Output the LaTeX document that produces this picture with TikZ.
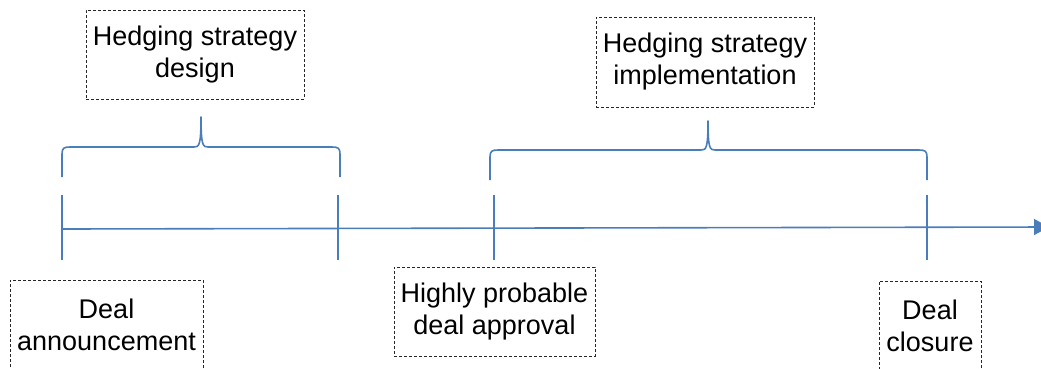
\documentclass[tikz,border=0pt]{standalone}
\usepackage{fontspec}
\setmainfont{Liberation Sans}
\usetikzlibrary{arrows.meta}
\definecolor{axisblue}{RGB}{74,126,187}
\tikzset{
  labelbox/.style={draw=black!85, line width=1pt, dash pattern=on 3pt off 2pt,
    align=center, inner sep=0pt, font=\fontsize{27}{32}\selectfont},
  blueline/.style={draw=axisblue, line width=1.6pt},
}
\begin{document}
\begin{tikzpicture}[x=1pt,y=-1pt]
\useasboundingbox (0,0) rectangle (1041,368);
% boxes
\node[labelbox, minimum width=218pt, minimum height=89pt] (design) at (195,54.5) {Hedging strategy\\design};
\node[labelbox, minimum width=218pt, minimum height=90pt] (impl) at (705,62) {Hedging strategy\\implementation};
\node[labelbox, minimum width=193pt, minimum height=90pt] (announce) at (106.5,325) {Deal\\announcement};
\node[labelbox, minimum width=201pt, minimum height=89pt] (approval) at (494.5,311.5) {Highly probable\\deal approval};
\node[labelbox, minimum width=102pt, minimum height=90pt] (closure) at (930,326) {Deal\\closure};
% axis
\coordinate (axstart) at (62,229);
\coordinate (axend) at (1049,227);
\draw[blueline, -{Triangle[width=16pt,length=15pt]}] (axstart) -- (axend);
% ticks
\foreach \n/\x in {t1/62,t2/338,t3/494,t4/927}{
  \coordinate (\n top) at (\x,195);
  \coordinate (\n bot) at (\x,260);
  \draw[blueline] (\n top) -- (\n bot);
}
% braces
\coordinate (b1tip) at (201,117);
\draw[blueline, line join=round] (62,177) -- (62,154) .. controls (62,148) and (64,147) .. (70,147)
  -- (194,147) .. controls (199,147) and (201,146) .. (b1tip)
  .. controls (201,146) and (203,147) .. (208,147)
  -- (332,147) .. controls (338,147) and (340,148) .. (340,154) -- (340,177);
\coordinate (b2tip) at (708,121);
\draw[blueline, line join=round] (490,180) -- (490,157) .. controls (490,151) and (492,150) .. (498,150)
  -- (701,150) .. controls (706,150) and (708,149) .. (b2tip)
  .. controls (708,149) and (710,150) .. (715,150)
  -- (919,150) .. controls (925,150) and (927,151) .. (927,157) -- (927,180);
\end{tikzpicture}
\end{document}
